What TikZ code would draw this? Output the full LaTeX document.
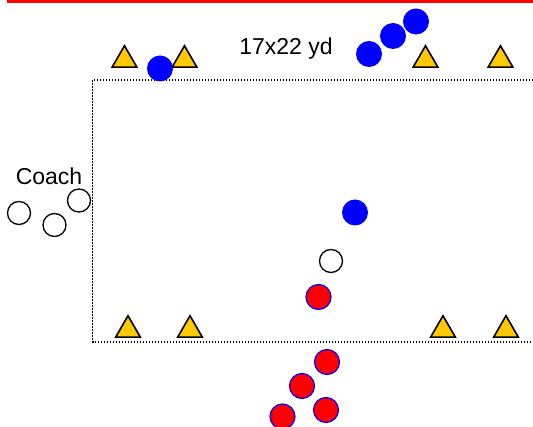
\documentclass[tikz,border=0pt]{standalone}
\usepackage{fontspec}
\setmainfont{Liberation Sans}
\usetikzlibrary{shapes.geometric}
\definecolor{conegold}{RGB}{255,200,0}
\begin{document}
\begin{tikzpicture}[x=1pt,y=-1pt,
  cone/.style={regular polygon, regular polygon sides=3, minimum size=28.5pt,
    inner sep=0pt, fill=conegold, draw=black, line width=1.6pt},
  blueplayer/.style={circle, minimum size=26pt, inner sep=0pt, fill=blue},
  redplayer/.style={circle, minimum size=25pt, inner sep=0pt, fill=red,
    draw=blue, line width=1.2pt},
  neutral/.style={circle, minimum size=23pt, inner sep=0pt, fill=white,
    draw=black, line width=1.3pt},
  label/.style={font=\fontsize{23}{27}\selectfont, inner sep=0pt},
  fieldline/.style={line width=1.1pt, dash pattern=on 1.2pt off 1.8pt}]
\useasboundingbox (0,0) rectangle (533,427);
% header rule
\draw[red, line width=2.6pt] (7,1.3) -- (533,1.3);
% pitch outline
\coordinate (tl) at (92.5,80);
\coordinate (tr) at (533,80);
\coordinate (bl) at (92.5,342);
\coordinate (br) at (533,342);
\draw[fieldline] (tr) -- (tl) -- (bl) -- (br);
% size label and coach label
\node[label] (size) at (286,49) {17x22 yd};
\node[label] (coach) at (49,176) {Coach};
% cones
\node[cone] (c1) at (124.5,60) {};
\node[cone] (c2) at (184.5,60) {};
\node[cone] (c3) at (425.5,60) {};
\node[cone] (c4) at (500.5,60) {};
\node[cone] (c5) at (128,330) {};
\node[cone] (c6) at (190,330) {};
\node[cone] (c7) at (443,330) {};
\node[cone] (c8) at (506,330) {};
% blue team
\node[blueplayer] (b1) at (160,68.5) {};
\node[blueplayer] (b2) at (369,54) {};
\node[blueplayer] (b3) at (393,36) {};
\node[blueplayer] (b4) at (416,21.5) {};
\node[blueplayer] (b5) at (355,212.5) {};
% red team
\node[redplayer] (r1) at (318.5,297) {};
\node[redplayer] (r2) at (327,362) {};
\node[redplayer] (r3) at (302,386) {};
\node[redplayer] (r4) at (326,410) {};
\node[redplayer] (r5) at (282.5,416.5) {};
% neutral players
\node[neutral] (n1) at (331,261) {};
\node[neutral] (n2) at (19,213) {};
\node[neutral] (n3) at (54.5,225) {};
\node[neutral] (n4) at (79,200.5) {};
\end{tikzpicture}
\end{document}
